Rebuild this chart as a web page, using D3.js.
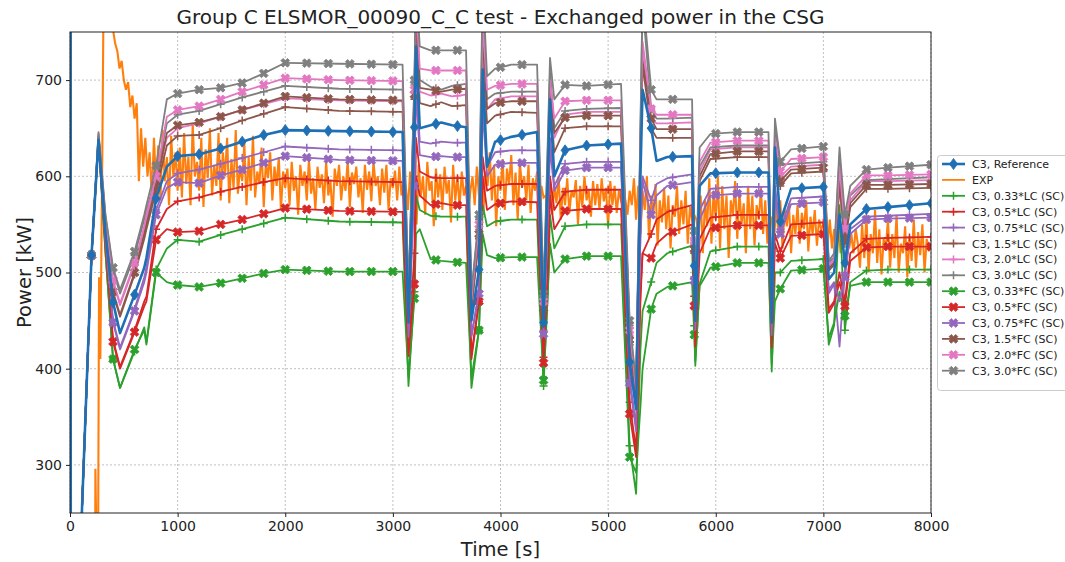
<!DOCTYPE html>
<html><head><meta charset="utf-8">
<script src="https://cdn.jsdelivr.net/npm/d3@7"></script>
<style>body{margin:0;background:#fff}svg{display:block;font-family:"DejaVu Sans",sans-serif}</style>
</head><body><svg id="c" width="1065" height="562"></svg>
<script>
// ---------- data ----------
const xTicks = [0,1000,2000,3000,4000,5000,6000,7000,8000];
const yTicks = [300,400,500,600,700];
const T = [0,2,8,110,200,265, 330,400,465,600,690,710,800,900,1000, 1200,1400,1600,1800,2000,2500,3090,
  3145,3200,3215,3250,3350,3450,3550,3680, 3730,3800,3835,3875,3950,4100,4340,
  4400,4440,4460,4500,4600,4800,5120, 5200,5260,5300,5320,5400,5450,5550,5780,
  5810,5850,5950,6200,6490, 6520,6550,6600,6700,7000, 7050,7100,7150,7200,7250,7400,7600,8000];

const ref = [0,1500,0,250,518,638, 540,469,437,477,505,515,577,610,621, 623,629,636,643,648,647,646,
  448,651,735,650,653,656,653,651, 450,503,711,610,636,641,646, 448,600,680,600,627,632,634,
  407,358,600,690,650,616,620,621, 450,590,603,604,604, 448,630,553,587,589, 493,500,560,510,550,566,568,572];
const lc033 = [0,1500,0,250,518,638, 520,410,380,418,443,427,503,525,534, 532,539,545,551,557,553,552,
  382,480,580,565,559,558,558,558, 380,440,570,548,553,555,555, 382,480,560,525,548,550,550,
  320,270,420,460,490,510,520,528, 403,488,522,527,527, 397,500,500,512,514, 425,445,570,440,490,502,503,503];
const lc05 = [0,1500,0,250,518,639, 528,430,402,440,470,475,545,566,574, 578,584,589,594,598,595,594,
  418,520,640,605,599,598,598,598, 415,470,620,585,590,592,592, 412,500,600,565,584,586,586,
  365,315,480,520,540,555,563,570, 428,535,557,560,560, 428,540,522,550,552, 462,470,500,470,520,535,536,537];
const lc075 = [0,1500,0,250,518,640, 535,450,422,462,495,505,565,595,603, 607,613,619,625,631,628,627,
  435,600,700,636,634,636,635,635, 435,480,680,610,625,627,627, 440,560,640,590,613,615,615,
  390,340,540,600,575,592,598,602, 442,565,587,589,589, 438,590,545,577,579, 478,488,423,500,545,558,559,561];
const lc15 = [0,1500,0,250,518,640, 548,478,454,498,535,545,585,632,642, 643,650,658,665,672,668,667,
  460,680,760,676,673,677,673,674, 462,535,730,655,663,667,666, 460,605,680,625,650,652,652,
  425,368,625,715,650,640,640,640, 460,595,618,620,620, 455,620,590,603,605, 502,508,590,530,568,587,587,588];
const lc20 = [0,1500,0,250,518,641, 553,490,466,508,545,555,595,640,650, 655,662,669,675,681,679,678,
  468,688,770,688,684,686,683,685, 470,545,740,670,680,683,683, 468,615,690,640,664,667,667,
  435,375,635,735,660,655,655,656, 466,605,628,630,630, 462,630,600,610,612, 506,512,600,540,575,595,595,596];
const lc30 = [0,1500,0,250,518,644, 558,502,478,518,555,565,600,655,664, 668,675,682,688,694,691,690,
  475,695,790,700,693,690,694,696, 478,555,780,680,686,688,688, 475,630,710,650,668,670,671,
  445,380,645,780,670,660,660,661, 470,610,630,632,632, 468,650,612,613,615, 510,516,622,550,580,596,597,599];
const fc033 = [0,1500,0,250,518,638, 520,410,380,420,440,425,500,490,487, 485,489,494,499,503,501,501,
  392,473,540,545,514,512,511,510, 390,440,540,518,515,516,516, 388,480,530,500,514,517,517,
  308,292,360,400,462,478,485,490, 408,486,505,510,510, 405,470,483,502,504, 432,448,480,455,486,490,490,490];
const fc05 = [0,1500,0,250,518,638, 526,428,400,438,465,470,534,545,542, 543,550,555,561,567,564,563,
  413,488,600,580,570,572,570,570, 410,470,600,565,571,574,573, 406,500,580,545,564,566,566,
  353,308,470,520,515,530,540,550, 423,520,546,549,549, 422,530,515,538,540, 458,468,490,465,512,526,527,527];
const fc075 = [0,1500,0,250,518,639, 533,448,420,460,490,500,560,588,594, 593,601,607,614,621,617,616,
  433,590,690,622,620,621,620,620, 433,478,670,600,612,614,614, 436,555,630,585,606,609,609,
  385,335,535,595,560,580,590,594, 440,555,580,582,582, 435,580,540,571,573, 482,490,470,495,540,555,556,557];
const fc15 = [0,1500,0,250,518,641, 550,480,456,500,540,550,590,645,653, 656,662,669,676,683,680,679,
  462,685,765,692,690,688,690,691, 465,540,745,670,676,678,678, 463,610,690,645,661,663,663,
  430,372,630,720,660,649,649,649, 462,600,623,626,626, 458,625,595,607,609, 504,510,595,535,572,591,591,592];
const fc20 = [0,1500,0,250,518,642, 555,492,468,510,548,560,600,662,669, 673,680,688,695,702,700,699,
  470,690,780,712,710,710,710,710, 472,550,760,690,694,696,696, 470,620,700,660,678,679,679,
  440,378,640,740,670,664,664,664, 468,615,635,637,637, 465,640,605,618,620, 508,514,610,545,582,601,601,602];
const fc30 = [0,1500,0,250,518,646, 560,505,482,522,560,570,611,680,686, 690,692,697,707,718,717,716,
  478,700,800,735,731,731,731,731, 480,560,800,704,712,716,716, 478,640,723,680,695,694,696,
  450,385,650,790,690,680,680,680, 475,630,644,646,646, 472,660,615,628,631, 512,520,630,560,590,607,609,612];

// EXP measurement: early part with explicit times, then a regular record from 400 s to 8000 s
const expEarlyT = [0,228,236,244,262,270,282,300,320,360,390];
const expEarlyV = [0,0,296,235,240,495,410,620,900,850,770];
const expV = [
 752,738,730,712,720,700,690,698,672,684,660,676,595,650,610,640,
 600,625,578,640,590,632,575,648,595,620,570,642,600,625,585,
 630,578,645,592,620,570,655,600,615,585,640,568,628,598,650,580,612,590,645,575,625,600,640,572,618,588,648,582,610,595,635,570,620,585,642,578,605,592,630,568,615,598,625,575,610,590,620,565,605,588,
 608,570,615,585,600,560,612,590,605,575,618,582,598,565,610,588,602,572,615,580,595,558,608,590,612,575,600,585,616,568,604,592,610,578,598,562,612,586,605,574,615,590,600,570,608,583,612,565,598,588,606,575,610,580,595,
 590,565,605,575,598,550,612,580,600,560,615,585,595,548,608,578,602,565,610,582,596,552,612,575,600,568,605,580,590,560,
 585,600,570,610,580,620,560,605,590,625,575,612,548,600,585,618,565,608,592,622,570,604,555,615,588,600,575,612,562,598,585,605,570,590,578,
 580,565,595,560,590,572,600,555,588,570,598,562,585,578,596,550,590,568,600,575,586,558,595,570,592,565,598,574,588,548,595,570,590,562,585,575,580,
 575,560,585,570,598,555,590,540,585,565,600,535,580,560,592,528,575,552,588,545,580,525,570,558,590,540,575,550,585,530,568,555,560,
 555,540,580,520,575,548,598,530,585,555,600,525,590,545,580,515,575,560,595,535,585,550,572,520,590,545,580,528,570,555,588,540,575,530,560,
 555,530,568,545,575,525,565,548,572,520,560,540,570,530,562,545,575,522,558,540,565,528,555,545,550,
 548,530,555,525,545,535,552,520,545,530,548,525,540,520,545,
 530,505,550,515,560,500,540,520,565,510,545,498,535,525,555,505,540,515,560,500,530,520,548,495,538,512,555,505,542,518,550,500,535,522,530];
const expStart = 400, expEnd = 8000;

const names = ["C3, Reference","EXP","C3, 0.33*LC (SC)","C3, 0.5*LC (SC)","C3, 0.75*LC (SC)","C3, 1.5*LC (SC)","C3, 2.0*LC (SC)","C3, 3.0*LC (SC)",
  "C3, 0.33*FC (SC)","C3, 0.5*FC (SC)","C3, 0.75*FC (SC)","C3, 1.5*FC (SC)","C3, 2.0*FC (SC)","C3, 3.0*FC (SC)"];
const colors = ["#1f6fb4","#ff7f0e","#2ca02c","#d62728","#9467bd","#8c564b","#e377c2","#7f7f7f",
  "#2ca02c","#d62728","#9467bd","#8c564b","#e377c2","#7f7f7f"];
const kinds = ["D","none","+","+","+","+","+","+","X","X","X","X","X","X"];
const simValues = [ref,null,lc033,lc05,lc075,lc15,lc20,lc30,fc033,fc05,fc075,fc15,fc20,fc30];

// ---------- layout ----------
const svg = d3.select("#c");
const L = 70, R = 931, Tp = 32, B = 513;
const x = d3.scaleLinear([0,8000],[L,R]);
const y = d3.scaleLinear([250,750],[B,Tp]);

svg.append("defs").append("clipPath").attr("id","pc").append("rect")
  .attr("x",L).attr("y",Tp).attr("width",R-L).attr("height",B-Tp);

// grid
const g = svg.append("g");
g.selectAll(".gx").data(xTicks).join("line").attr("x1",d=>x(d)).attr("x2",d=>x(d)).attr("y1",Tp).attr("y2",B)
  .attr("stroke","#b0b0b0").attr("stroke-width",0.8).attr("stroke-dasharray","2,2");
g.selectAll(".gy").data(yTicks).join("line").attr("y1",d=>y(d)).attr("y2",d=>y(d)).attr("x1",L).attr("x2",R)
  .attr("stroke","#b0b0b0").attr("stroke-width",0.8).attr("stroke-dasharray","2,2");

const plot = svg.append("g").attr("clip-path","url(#pc)");
const line = d3.line().x(d=>x(d[0])).y(d=>y(d[1]));

// EXP
const expStep = (expEnd-expStart)/(expV.length-1);
const expPts = expEarlyT.map((t,i)=>[t,expEarlyV[i]]).concat(expV.map((v,i)=>[expStart+i*expStep,v]));
plot.append("path").attr("d",line(expPts)).attr("fill","none").attr("stroke",colors[1]).attr("stroke-width",2.1);

function markerPath(kind){
  if(kind==="D") return "M0,-5.5L4,0L0,5.5L-4,0Z";
  if(kind==="+") return "M-4,0H4M0,-4V4";
  if(kind==="X") return d3.symbol(d3.symbolCross,48)();
  return null;
}
function drawMarker(sel,kind,color){
  const p = sel.append("path").attr("d",markerPath(kind));
  if(kind==="+") p.attr("fill","none").attr("stroke",color).attr("stroke-width",1.5);
  else p.attr("fill",color).attr("stroke",color).attr("stroke-width",0.8);
  if(kind==="X") p.attr("transform","rotate(45)");
  return p;
}
const markTimes = d3.range(200,8001,200);
const order = [2,3,4,5,6,7,8,9,10,11,12,13,0];
order.forEach(k=>{
  const vals = simValues[k];
  const pts = T.map((t,i)=>[t,vals[i]]).filter(d=>d[1]!==undefined);
  const lw = k===0?2.6:1.8;
  plot.append("path").attr("d",line(pts)).attr("fill","none").attr("stroke",colors[k])
    .attr("stroke-width",lw).attr("stroke-linejoin","round");
  const interp = d3.scaleLinear().domain(pts.map(d=>d[0])).range(pts.map(d=>d[1]));
  markTimes.forEach(t=>{
    const gm = plot.append("g").attr("transform",`translate(${x(t)},${y(interp(t))})`);
    drawMarker(gm,kinds[k],colors[k]);
  });
});

// frame
svg.append("rect").attr("x",L).attr("y",Tp).attr("width",R-L).attr("height",B-Tp)
  .attr("fill","none").attr("stroke","#222").attr("stroke-width",1);

// axes
const ax = svg.append("g").attr("transform",`translate(0,${B})`)
  .call(d3.axisBottom(x).tickValues(xTicks).tickFormat(d3.format("d")).tickSize(4).tickPadding(4));
const ay = svg.append("g").attr("transform",`translate(${L},0)`)
  .call(d3.axisLeft(y).tickValues(yTicks).tickSize(4).tickPadding(4));
[ax,ay].forEach(a=>{a.select(".domain").remove();
  a.selectAll("text").attr("font-size",14).attr("fill","#222").attr("font-family","DejaVu Sans");
  a.selectAll("line").attr("stroke","#222");});

// labels
svg.append("text").attr("x",(L+R)/2).attr("y",24).attr("text-anchor","middle").attr("font-size",20).attr("fill","#222")
  .text("Group C ELSMOR_00090_C_C test - Exchanged power in the CSG");
svg.append("text").attr("x",(L+R)/2).attr("y",556).attr("text-anchor","middle").attr("font-size",19.5).attr("fill","#222")
  .text("Time [s]");
svg.append("text").attr("transform",`translate(31,${(Tp+B)/2}) rotate(-90)`).attr("text-anchor","middle").attr("font-size",19.5).attr("fill","#222")
  .text("Power [kW]");

// legend
const lg = svg.append("g");
lg.append("rect").attr("x",937.5).attr("y",155.5).attr("width",140).attr("height",235).attr("rx",3)
  .attr("fill","#fff").attr("stroke","#cccccc");
names.forEach((n,i)=>{
  const yy = 164 + i*15.9;
  lg.append("line").attr("x1",942).attr("x2",965).attr("y1",yy).attr("y2",yy).attr("stroke",colors[i]).attr("stroke-width",i===0?2.6:1.8);
  if(kinds[i]!=="none") drawMarker(lg.append("g").attr("transform",`translate(953.5,${yy})`),kinds[i],colors[i]);
  lg.append("text").attr("x",972).attr("y",yy+4).attr("font-size",11).attr("fill","#222").text(n);
});
</script></body></html>
